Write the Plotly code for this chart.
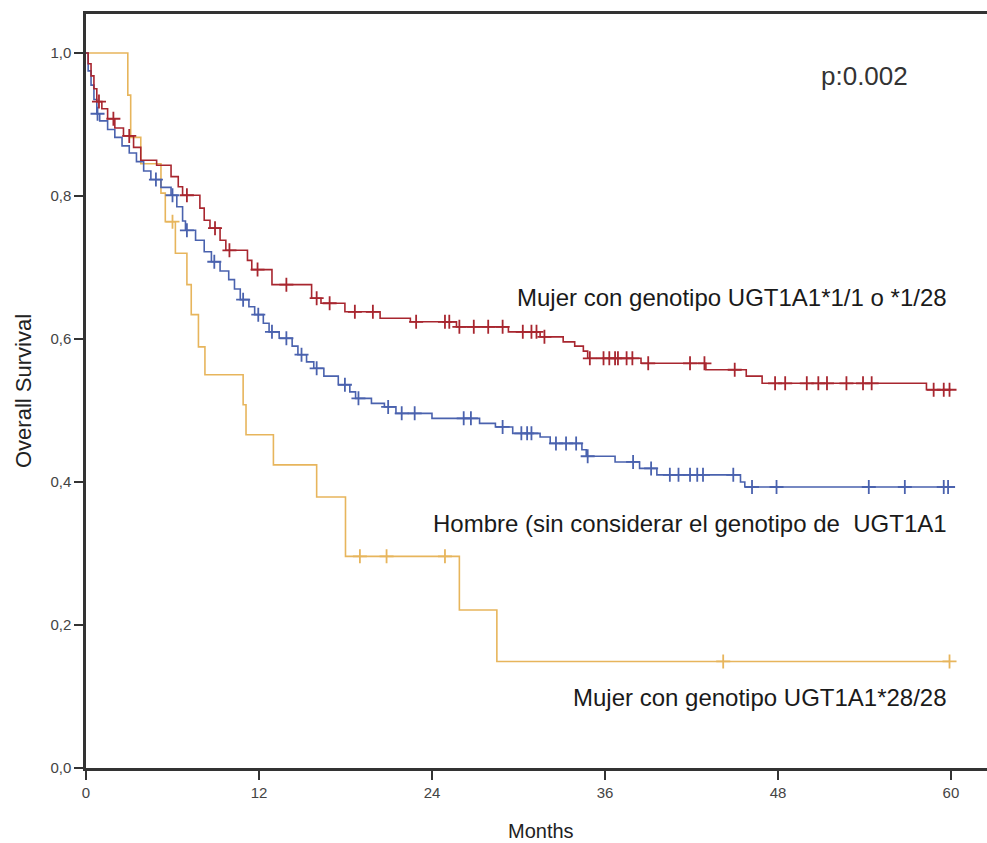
import plotly.graph_objects as go
import bisect

# ---------------- data ----------------
# Mujer con genotipo UGT1A1*1/1 o *1/28  (red)
red_t = [0.15, 0.35, 0.55, 0.75, 1.1, 1.5, 2.0, 2.6, 3.3, 3.8, 4.9, 5.9, 6.4, 6.7,
         7.9, 8.2, 8.6, 9.3, 9.7, 11.2, 11.5, 12.9, 15.65, 16.3, 17.96, 20.4, 22.5,
         25.7, 29.3, 31.5, 33.1, 33.9, 34.5, 34.8, 38.5, 43.0, 45.8, 46.9, 58.3]
red_s = [0.985, 0.968, 0.950, 0.932, 0.922, 0.908, 0.895, 0.884, 0.868, 0.850, 0.843,
         0.827, 0.813, 0.801, 0.783, 0.766, 0.755, 0.738, 0.724, 0.710, 0.697, 0.676,
         0.657, 0.650, 0.638, 0.629, 0.624, 0.617, 0.610, 0.603, 0.596, 0.590, 0.583,
         0.573, 0.566, 0.557, 0.548, 0.538, 0.529]
red_cens = [0.9, 1.9, 3.0, 7.0, 8.95, 9.95, 11.9, 13.9, 16.0, 16.9, 18.65, 19.9, 22.9,
            24.9, 25.2, 25.9, 26.9, 27.9, 28.9, 30.3, 30.9, 31.25, 31.8, 34.95, 35.9,
            36.3, 36.7, 36.9, 37.5, 37.9, 39.0, 41.9, 42.9, 45.0, 47.8, 48.5, 50.0,
            50.8, 51.4, 52.75, 53.9, 54.5, 58.8, 59.5, 59.9]

# Hombre (sin considerar el genotipo de UGT1A1)  (blue)
blue_t = [0.15, 0.35, 0.55, 0.75, 0.95, 1.5, 2.0, 2.5, 3.0, 3.5, 4.0, 4.5, 5.2, 5.9,
          6.3, 6.7, 6.9, 7.6, 8.2, 8.7, 9.3, 9.9, 10.3, 10.7, 11.3, 11.7, 12.3, 12.7,
          13.4, 14.3, 14.7, 15.3, 15.8, 16.5, 17.5, 18.3, 18.7, 19.8, 20.7, 21.5, 24.0,
          27.3, 28.4, 29.6, 31.5, 32.2, 34.4, 34.7, 36.7, 38.4, 39.6, 45.4, 45.7]
blue_s = [0.975, 0.955, 0.935, 0.915, 0.905, 0.893, 0.882, 0.870, 0.860, 0.848, 0.835,
          0.823, 0.812, 0.801, 0.785, 0.765, 0.752, 0.738, 0.722, 0.708, 0.695, 0.683,
          0.670, 0.655, 0.645, 0.634, 0.622, 0.610, 0.601, 0.590, 0.578, 0.568, 0.559,
          0.548, 0.536, 0.526, 0.517, 0.510, 0.505, 0.496, 0.489, 0.482, 0.477, 0.468,
          0.463, 0.454, 0.445, 0.436, 0.428, 0.419, 0.410, 0.400, 0.393]
blue_cens = [0.8, 4.85, 6.0, 7.0, 8.9, 10.9, 11.95, 12.9, 13.9, 14.95, 16.0, 17.96,
             18.9, 20.96, 21.9, 22.8, 26.2, 26.7, 28.9, 30.2, 30.6, 30.9, 32.6, 33.3,
             34.0, 34.8, 37.95, 39.2, 40.5, 41.1, 41.9, 42.4, 42.8, 44.9, 46.2, 47.9,
             54.3, 56.8, 59.5, 59.8]

# Mujer con genotipo UGT1A1*28/28  (orange)
orange_t = [2.9, 3.1, 3.8, 5.2, 5.5, 6.2, 7.0, 7.3, 7.8, 8.25, 10.9, 11.1, 13.0, 16.0,
            18.0, 25.9, 28.5]
orange_s = [0.941, 0.882, 0.845, 0.804, 0.764, 0.72, 0.676, 0.634, 0.589, 0.55, 0.508,
            0.466, 0.424, 0.379, 0.296, 0.221, 0.149]
orange_cens = [6.0, 19.0, 20.85, 24.9, 44.2, 59.9]

x_ticks = [0, 12, 24, 36, 48, 60]
y_ticks = [0.0, 0.2, 0.4, 0.6, 0.8, 1.0]
y_ticklabels = ["0,0", "0,2", "0,4", "0,6", "0,8", "1,0"]

labels = ["Mujer con genotipo UGT1A1*1/1 o *1/28",
          "Hombre (sin considerar el genotipo de \u00a0UGT1A1",
          "Mujer con genotipo UGT1A1*28/28"]
label_y = [0.658, 0.342, 0.098]
p_text = "p:0.002"

RED = "#A8262F"
BLUE = "#4A62AE"
ORANGE = "#E7B55C"
FONT = "Liberation Sans, Arial, sans-serif"


def surv_at(ts, ss, t):
    i = bisect.bisect_right(ts, t)
    return 1.0 if i == 0 else ss[i - 1]


fig = go.Figure()
for ts, ss, cens, col in [(orange_t, orange_s, orange_cens, ORANGE),
                          (blue_t, blue_s, blue_cens, BLUE),
                          (red_t, red_s, red_cens, RED)]:
    end = max(cens + ts)
    xs = [0.0] + ts + [end]
    ys = [1.0] + ss + [ss[-1]]
    fig.add_trace(go.Scatter(x=xs, y=ys, mode="lines", line=dict(color=col, width=1.6, shape="hv"),
                             hoverinfo="skip", showlegend=False))
    fig.add_trace(go.Scatter(x=cens, y=[surv_at(ts, ss, c) for c in cens], mode="markers",
                             marker=dict(symbol="cross-thin", size=10,
                                         line=dict(color=col, width=1.8)),
                             showlegend=False))

for txt, yv in zip(labels, label_y):
    fig.add_annotation(x=59.85, y=yv, xref="x", yref="y", text=txt, showarrow=False,
                       xanchor="right", yanchor="middle",
                       font=dict(family=FONT, size=24, color="#1a1a1a"))

fig.add_annotation(x=54.0, y=0.968, xref="x", yref="y", text=p_text, showarrow=False,
                   xanchor="center", yanchor="middle",
                   font=dict(family=FONT, size=26, color="#333333"))

fig.add_annotation(x=0.505, y=0, xref="paper", yref="paper", yshift=-63, text="Months",
                   showarrow=False, xanchor="center", yanchor="middle",
                   font=dict(family=FONT, size=20, color="#222222"))
fig.add_annotation(x=0, y=0.5, xref="paper", yref="paper", xshift=-63, text="Overall Survival",
                   textangle=-90, showarrow=False, xanchor="center", yanchor="middle",
                   font=dict(family=FONT, size=22, color="#222222"))

fig.update_layout(
    width=987, height=843,
    margin=dict(l=86, r=0, t=14, b=75),
    paper_bgcolor="white", plot_bgcolor="white",
    font=dict(family=FONT),
    showlegend=False,
)
fig.update_xaxes(range=[0, 62.5], tickvals=x_ticks, ticktext=[str(v) for v in x_ticks],
                 showgrid=False, zeroline=False, showline=True, linecolor="#333333",
                 linewidth=2.5, mirror=True, ticks="outside", ticklen=9, tickwidth=1.5,
                 tickcolor="#333333", tickfont=dict(family=FONT, size=15, color="#444444"))
fig.update_yaxes(range=[0, 1.0545], tickvals=y_ticks, ticktext=y_ticklabels,
                 showgrid=False, zeroline=False, showline=True, linecolor="#333333",
                 linewidth=2.5, mirror=False, ticks="outside", ticklen=9, tickwidth=1.5,
                 tickcolor="#333333", tickfont=dict(family=FONT, size=15, color="#444444"))

fig.write_html("out.html")
